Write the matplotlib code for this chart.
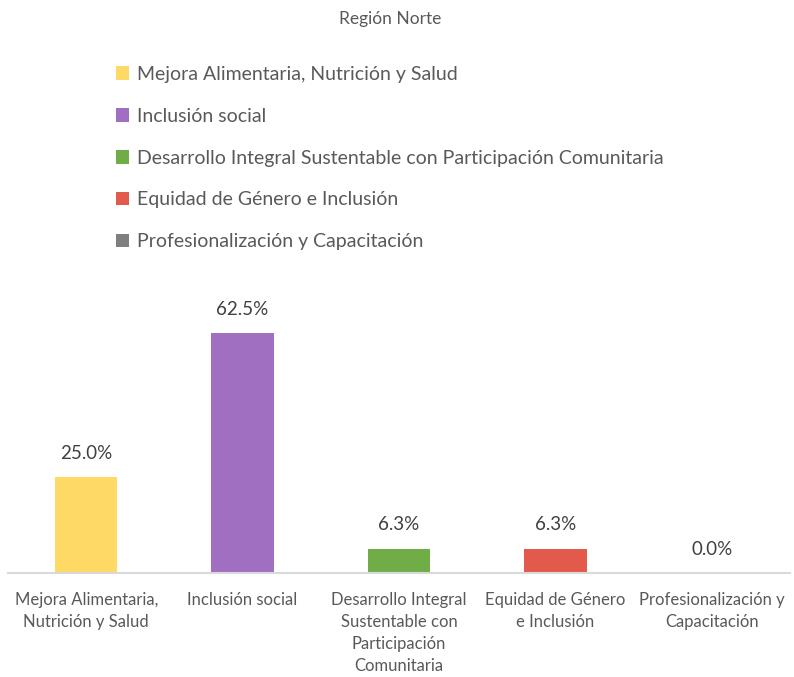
import numpy as np
import matplotlib.pyplot as plt

# data
categorias = ['Mejora Alimentaria, Nutrición y Salud', 'Inclusión social',
              'Desarrollo Integral Sustentable con Participación Comunitaria',
              'Equidad de Género e Inclusión', 'Profesionalización y Capacitación']
etiquetas_eje = ['Mejora Alimentaria,\nNutrición y Salud', 'Inclusión social',
                 'Desarrollo Integral\nSustentable con\nParticipación\nComunitaria',
                 'Equidad de Género\ne Inclusión', 'Profesionalización y\nCapacitación']
valores = [25.0, 62.5, 6.3, 6.3, 0.0]
colores = ['#FFD966', '#A06FC2', '#70AD47', '#E15A4B', '#7F7F7F']

plt.rcParams['font.family'] = ['Lato', 'DejaVu Sans']

fig = plt.figure(figsize=(7.94, 6.77), dpi=100)
ax = fig.add_axes([8/794, 104/677, 782/794, 293/677])

x = np.arange(len(valores))
bars = ax.bar(x, valores, width=0.40, color=colores)
ax.set_xlim(-0.5, len(valores) - 0.5)
ax.set_ylim(0, 293/3.84)

for xi, v in zip(x, valores):
    ax.text(xi, v + 4.0, f'{v:.1f}%', ha='center', va='bottom', fontsize=13.5, color='#404040')

ax.set_xticks(x)
ax.set_xticklabels(etiquetas_eje, fontsize=12, color='#595959', linespacing=1.45, va='top')
ax.tick_params(axis='x', length=0, pad=14)
ax.set_yticks([])
for s in ['top', 'left', 'right']:
    ax.spines[s].set_visible(False)
ax.spines['bottom'].set_color('#D9D9D9')
ax.spines['bottom'].set_linewidth(1.5)

fig.text(390/794, 1 - 19/677, 'Región Norte', ha='center', va='center', fontsize=12.5, color='#595959')

fig.legend(bars, categorias, loc='upper left', bbox_to_anchor=(108/794, 1 - 58/677),
           frameon=False, fontsize=14, labelcolor='#595959', handlelength=0.7, handleheight=0.7,
           handletextpad=0.4, labelspacing=1.28, borderaxespad=0)

fig.savefig('out.png', dpi=100)
